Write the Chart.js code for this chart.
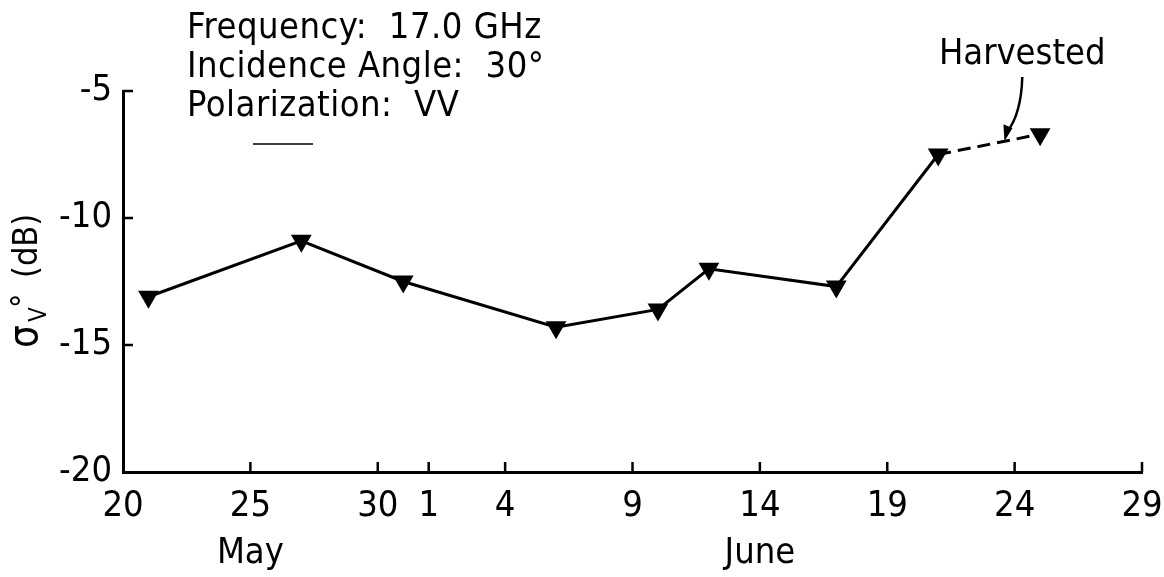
<!DOCTYPE html>
<html>
<head>
<meta charset="utf-8">
<script src="https://cdn.jsdelivr.net/npm/chart.js@4.4.1/dist/chart.umd.min.js"></script>
<style>
  html, body { margin: 0; padding: 0; background: #fff; }
  #wrap { width: 1164px; height: 577px; position: relative; }
</style>
</head>
<body>
<div id="wrap"><canvas id="c" width="1164" height="577"></canvas></div>
<script>
// Measurement dates (month, day) and backscatter coefficient in dB
const obsMonths = ['May', 'May', 'May', 'June', 'June', 'June', 'June', 'June', 'June'];
const obsDays   = [21, 27, 31, 6, 10, 12, 17, 21, 25];
const sigmaVV   = [-13.1, -10.9, -12.5, -14.3, -13.6, -12.0, -12.7, -7.5, -6.7];

// Index of the point measured after the harvest (joined with a dashed segment)
const harvestedIndex = 8;

// Date axis ticks
const tickMonths = ['May', 'May', 'May', 'June', 'June', 'June', 'June', 'June', 'June', 'June'];
const tickDays   = [20, 25, 30, 1, 4, 9, 14, 19, 24, 29];
const monthLabels = ['May', 'June'];
const monthLabelAt = [25, 14]; // day under which each month name sits

// Backscatter axis ticks
const yTicks = [-20, -15, -10, -5];

// Header lines
const headerLines = ['Frequency:  17.0 GHz', 'Incidence Angle:  30°', 'Polarization:  VV'];

// Days elapsed since 20 May
function dayIndex(month, day) {
  return month === 'May' ? day - 20 : day + 11;
}

const points = obsDays.map((d, i) => ({ x: dayIndex(obsMonths[i], d), y: sigmaVV[i] }));
const tickPositions = tickDays.map((d, i) => dayIndex(tickMonths[i], d));

const FONT = '"Liberation Sans Narrow", "DejaVu Sans Condensed", "Liberation Sans", sans-serif';

// Short inward tick marks on both axes
const inwardTicks = {
  id: 'inwardTicks',
  afterDraw(chart) {
    const { ctx, chartArea } = chart;
    const xs = chart.scales.x, ys = chart.scales.y;
    ctx.save();
    ctx.strokeStyle = '#000';
    ctx.lineWidth = 2.5;
    ctx.beginPath();
    tickPositions.forEach(v => {
      if (v === xs.min) return;
      const px = xs.getPixelForValue(v);
      ctx.moveTo(px, chartArea.bottom);
      ctx.lineTo(px, chartArea.bottom - 10);
    });
    yTicks.forEach(v => {
      if (v === ys.min) return;
      const py = ys.getPixelForValue(v);
      ctx.moveTo(chartArea.left, py);
      ctx.lineTo(chartArea.left + 10, py);
    });
    ctx.stroke();
    ctx.restore();
  }
};

// Header text, month names, axis title and the harvest note
const annotations = {
  id: 'annotations',
  afterDraw(chart) {
    const { ctx, chartArea } = chart;
    const xs = chart.scales.x, ys = chart.scales.y;
    ctx.save();
    ctx.fillStyle = '#000';
    ctx.strokeStyle = '#000';

    // header block
    ctx.font = '36px ' + FONT;
    ctx.textAlign = 'left';
    ctx.textBaseline = 'alphabetic';
    if ('letterSpacing' in ctx) ctx.letterSpacing = '0.5px';
    const hx = chartArea.left + 64;
    headerLines.forEach((t, i) => ctx.fillText(t, hx, 38 + i * 39));
    if ('letterSpacing' in ctx) ctx.letterSpacing = '0px';
    ctx.lineWidth = 1.5;
    ctx.beginPath();
    ctx.moveTo(hx + 66, 144);
    ctx.lineTo(hx + 126, 144);
    ctx.stroke();

    // month names
    ctx.font = '36px ' + FONT;
    ctx.textAlign = 'center';
    monthLabels.forEach((m, i) => {
      const px = xs.getPixelForValue(dayIndex(m, monthLabelAt[i]));
      ctx.fillText(m, px, 563);
    });

    // y-axis title: sigma with superscript degree and subscript V, then (dB)
    ctx.save();
    ctx.translate(37, 348);
    ctx.rotate(-Math.PI / 2);
    ctx.textAlign = 'left';
    ctx.font = '40px ' + FONT;
    ctx.fillText('σ', 0, 0);
    ctx.font = '24px ' + FONT;
    ctx.fillText('V', 26, 9);
    ctx.font = '32px ' + FONT;
    ctx.fillText('°', 40, -3);
    ctx.font = '34px ' + FONT;
    ctx.fillText('(dB)', 70, 0);
    ctx.restore();

    // harvest note with curved arrow to the dashed segment
    ctx.font = '36px ' + FONT;
    ctx.textAlign = 'center';
    ctx.fillText('Harvested', xs.getPixelForValue(35.3), 64);
    const tipX = xs.getPixelForValue(34.6);
    const tipY = ys.getPixelForValue(-7.1) - 3;
    const startX = xs.getPixelForValue(35.3);
    const startY = 77;
    ctx.lineWidth = 2.5;
    ctx.beginPath();
    ctx.moveTo(startX, startY);
    ctx.quadraticCurveTo(startX - 1, tipY - 28, tipX + 3, tipY - 10);
    ctx.stroke();
    ctx.beginPath();
    ctx.moveTo(tipX, tipY);
    ctx.lineTo(tipX - 1, tipY - 17);
    ctx.lineTo(tipX + 8, tipY - 13);
    ctx.closePath();
    ctx.fill();
    ctx.restore();
  }
};

new Chart(document.getElementById('c'), {
  type: 'line',
  data: {
    datasets: [{
      data: points,
      borderColor: '#000',
      backgroundColor: '#000',
      borderWidth: 3,
      pointStyle: 'triangle',
      pointRotation: 180,
      pointRadius: 12,
      pointBorderWidth: 0,
      pointBackgroundColor: '#000',
      tension: 0,
      clip: false,
      segment: {
        borderDash: ctx => ctx.p1DataIndex === harvestedIndex ? [13, 7] : undefined
      }
    }]
  },
  options: {
    responsive: false,
    animation: false,
    events: [],
    layout: { autoPadding: false, padding: { left: 0, top: 91, right: 22, bottom: 0 } },
    plugins: { legend: { display: false }, tooltip: { enabled: false }, title: { display: false } },
    scales: {
      x: {
        type: 'linear',
        min: 0,
        max: 40,
        afterBuildTicks: s => { s.ticks = tickPositions.map(v => ({ value: v })); },
        afterFit: s => { s.height = 105; s.paddingLeft = 0; s.paddingRight = 0; },
        grid: { display: false, drawTicks: false },
        border: { display: true, color: '#000', width: 3 },
        ticks: {
          autoSkip: false,
          maxRotation: 0,
          padding: 13,
          color: '#000',
          font: { family: FONT, size: 36 },
          callback: (v, i) => String(tickDays[i])
        }
      },
      y: {
        type: 'linear',
        min: -20,
        max: -5,
        afterBuildTicks: s => { s.ticks = yTicks.map(v => ({ value: v })); },
        afterFit: s => { s.width = 123; s.paddingTop = 0; s.paddingBottom = 0; },
        grid: { display: false, drawTicks: false },
        border: { display: true, color: '#000', width: 3 },
        ticks: {
          padding: 11,
          color: '#000',
          font: { family: FONT, size: 36 },
          callback: v => String(v)
        }
      }
    }
  },
  plugins: [inwardTicks, annotations]
});
</script>
</body>
</html>
